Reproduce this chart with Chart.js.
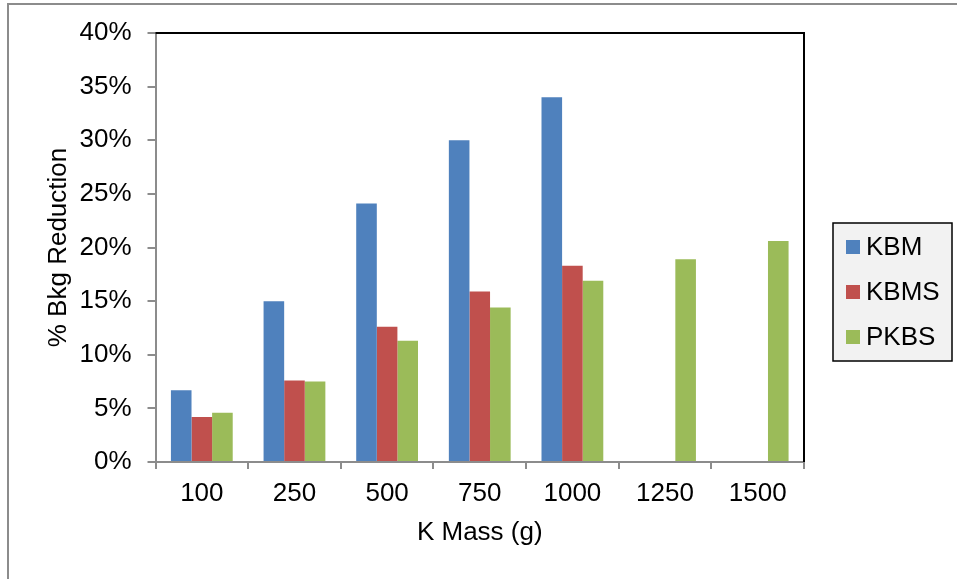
<!DOCTYPE html>
<html>
<head>
<meta charset="utf-8">
<script src="https://cdn.jsdelivr.net/npm/chart.js@4/dist/chart.umd.min.js"></script>
<style>
  html, body { margin: 0; padding: 0; background: #ffffff; }
  #wrap { position: relative; width: 957px; height: 579px; }
</style>
</head>
<body>
<div id="wrap"><canvas id="chart"></canvas></div>
<script>
// Potassium mass (g) for each group of bars
const categories = ['100', '250', '500', '750', '1000', '1250', '1500'];

// Background reduction, in percent
const kbmValues  = [6.7, 15.0, 24.1, 30.0, 34.0, null, null];
const kbmsValues = [4.2, 7.6, 12.6, 15.9, 18.3, null, null];
const pkbsValues = [4.6, 7.5, 11.3, 14.4, 16.9, 18.9, 20.6];

const seriesNames = ['KBM', 'KBMS', 'PKBS'];
const seriesColors = ['#4F81BD', '#C0504D', '#9BBB59'];

// Y axis ticks: 0% .. 40% in steps of 5
const yTickValues = [0, 5, 10, 15, 20, 25, 30, 35, 40];

const FONT = "'Liberation Sans', Arial, sans-serif";
const FONT_SIZE = 26;

// Outer frame, plot-area top/right border and the boxed legend
const decorations = {
  id: 'decorations',
  beforeDraw(chart) {
    const ctx = chart.ctx;
    ctx.save();
    ctx.fillStyle = '#ffffff';
    ctx.fillRect(0, 0, chart.width, chart.height);
    ctx.strokeStyle = '#8c8c8c';
    ctx.lineWidth = 2;
    ctx.beginPath();
    ctx.moveTo(8, chart.height);
    ctx.lineTo(8, 4);
    ctx.lineTo(chart.width, 4);
    ctx.stroke();
    ctx.restore();
  },
  afterDraw(chart) {
    const ctx = chart.ctx;
    const a = chart.chartArea;
    ctx.save();
    ctx.strokeStyle = '#000000';
    ctx.lineWidth = 2;
    ctx.beginPath();
    ctx.moveTo(a.left, a.top);
    ctx.lineTo(a.right, a.top);
    ctx.lineTo(a.right, a.bottom);
    ctx.stroke();

    // legend
    const lx = 833, ly = 223, lw = 119, lh = 138;
    ctx.fillStyle = '#f2f2f2';
    ctx.fillRect(lx, ly, lw, lh);
    ctx.strokeStyle = '#000000';
    ctx.lineWidth = 1.5;
    ctx.strokeRect(lx, ly, lw, lh);
    ctx.font = FONT_SIZE + 'px ' + FONT;
    ctx.textBaseline = 'middle';
    ctx.textAlign = 'left';
    chart.data.datasets.forEach((ds, i) => {
      const cy = 247 + i * 45;
      ctx.fillStyle = ds.backgroundColor;
      ctx.fillRect(846, cy - 7, 14, 14);
      ctx.fillStyle = '#000000';
      ctx.fillText(ds.label, 866, cy + 1);
    });
    ctx.restore();
  }
};

new Chart(document.getElementById('chart'), {
  type: 'bar',
  data: {
    labels: categories,
    datasets: [
      { label: seriesNames[0], data: kbmValues,  backgroundColor: seriesColors[0] },
      { label: seriesNames[1], data: kbmsValues, backgroundColor: seriesColors[1] },
      { label: seriesNames[2], data: pkbsValues, backgroundColor: seriesColors[2] }
    ]
  },
  options: {
    responsive: true,
    maintainAspectRatio: false,
    animation: false,
    devicePixelRatio: 1,
    layout: { padding: { left: 0, top: 33, right: 153, bottom: 0 } },
    datasets: { bar: { categoryPercentage: 0.667, barPercentage: 1.0, borderWidth: 0 } },
    plugins: {
      legend: { display: false },
      tooltip: { enabled: false },
      title: { display: false }
    },
    scales: {
      x: {
        type: 'category',
        afterFit(scale) { scale.height = 117; },
        grid: {
          display: true,
          offset: true,
          drawOnChartArea: false,
          drawTicks: true,
          tickLength: 7,
          color: '#8c8c8c',
          lineWidth: 2
        },
        border: { display: true, color: '#8c8c8c', width: 2 },
        ticks: {
          color: '#000000',
          font: { family: FONT, size: FONT_SIZE },
          padding: 9,
          maxRotation: 0,
          autoSkip: false
        },
        title: {
          display: true,
          text: 'K Mass (g)',
          color: '#000000',
          font: { family: FONT, size: FONT_SIZE, lineHeight: 1.2 },
          padding: { top: 0, bottom: 31 }
        }
      },
      y: {
        min: 0,
        max: 40,
        afterFit(scale) { scale.width = 155.5; },
        afterBuildTicks(scale) { scale.ticks = yTickValues.map(v => ({ value: v })); },
        grid: {
          display: true,
          drawOnChartArea: false,
          drawTicks: true,
          tickLength: 8,
          color: '#8c8c8c',
          lineWidth: 2
        },
        border: { display: true, color: '#8c8c8c', width: 2 },
        ticks: {
          color: '#000000',
          font: { family: FONT, size: FONT_SIZE },
          padding: 16,
          callback: v => v + '%'
        },
        title: {
          display: true,
          text: '% Bkg Reduction',
          color: '#000000',
          font: { family: FONT, size: FONT_SIZE, lineHeight: 1.2 },
          padding: { top: 43, bottom: 0 }
        }
      }
    }
  },
  plugins: [decorations]
});
</script>
</body>
</html>
